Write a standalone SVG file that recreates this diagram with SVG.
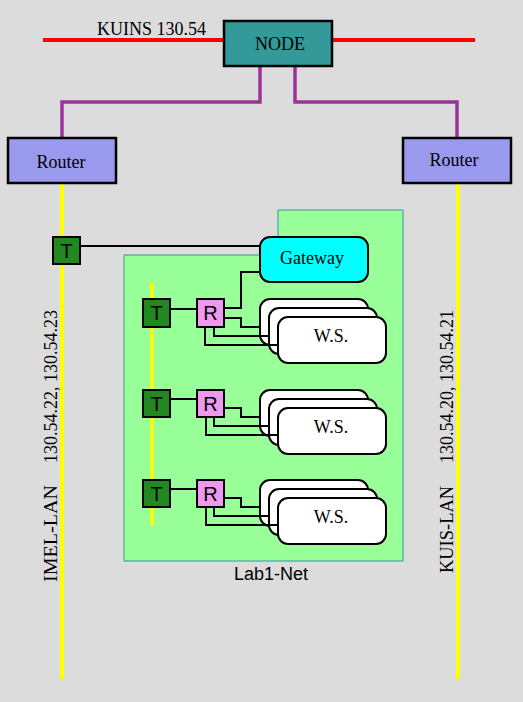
<svg xmlns="http://www.w3.org/2000/svg" width="523" height="702" viewBox="0 0 523 702">
<defs>
<style>
.serif{font-family:"Liberation Serif","Times New Roman",serif;font-size:18px;fill:#000}
.sans{font-family:"Liberation Sans",Arial,sans-serif;font-size:18px;fill:#000}
.tr{font-family:"Liberation Sans",Arial,sans-serif;font-size:20px;fill:#000;text-anchor:middle}
.box{stroke:#000;stroke-width:2.5}
.small{stroke:#000;stroke-width:2}
.wire{fill:none;stroke:#000;stroke-width:2}
.card{fill:#fff;stroke:#000;stroke-width:2}
</style>
</defs>
<rect x="0" y="0" width="523" height="702" fill="#dcdcdc"/>

<g id="lab1-net">
<path d="M278,210 H403 V561 H124 V255 H278 Z" fill="#99ff99" stroke="#339999" stroke-width="1"/>
<text class="sans" x="271" y="580" text-anchor="middle" font-size="19">Lab1-Net</text>
</g>

<g id="lines">
<line x1="43" y1="40" x2="475" y2="40" stroke="#ff0000" stroke-width="4"/>
<polyline points="260,66 260,102 62,102 62,138" fill="none" stroke="#993399" stroke-width="3.5"/>
<polyline points="295,66 295,102 457,102 457,138" fill="none" stroke="#993399" stroke-width="3.5"/>
<line x1="62" y1="183" x2="62" y2="679" stroke="#ffff00" stroke-width="4"/>
<line x1="458" y1="183" x2="458" y2="679" stroke="#ffff00" stroke-width="4"/>
<line x1="152" y1="282" x2="152" y2="525" stroke="#ffff00" stroke-width="3.5"/>
</g>

<text class="serif" x="97" y="35">KUINS 130.54</text>
<text class="serif" transform="translate(57,582) rotate(-90)" textLength="97" lengthAdjust="spacingAndGlyphs">IMEL-LAN</text>
<text class="serif" transform="translate(57,463) rotate(-90)">130.54.22, 130.54.23</text>
<text class="serif" transform="translate(453,573) rotate(-90)" textLength="87" lengthAdjust="spacingAndGlyphs">KUIS-LAN</text>
<text class="serif" transform="translate(453,463) rotate(-90)">130.54.20, 130.54.21</text>

<g id="node">
<rect class="box" x="224" y="21" width="108" height="45" fill="#339999"/>
<text class="serif" x="280" y="50" text-anchor="middle">NODE</text>
</g>
<g id="router-left">
<rect class="box" x="8" y="138" width="108" height="45" fill="#9999ee"/>
<text class="serif" x="61" y="168" text-anchor="middle">Router</text>
</g>
<g id="router-right">
<rect class="box" x="403" y="138" width="108" height="45" fill="#9999ee"/>
<text class="serif" x="454" y="166" text-anchor="middle">Router</text>
</g>

<g id="t-imel">
<rect class="small" x="53" y="237" width="27" height="27" fill="#228822"/>
<text class="tr" x="66.5" y="258">T</text>
</g>
<g id="gateway">
<rect class="small" x="260" y="237" width="108" height="45" rx="10" fill="#00ffff"/>
<text class="serif" x="312" y="264" text-anchor="middle">Gateway</text>
</g>

<g id="t1"><rect class="small" x="143" y="299" width="27" height="28" fill="#228822"/><text class="tr" x="156.5" y="320">T</text></g>
<g id="r1"><rect class="small" x="197" y="299" width="27" height="28" fill="#ee99ee"/><text class="tr" x="210.5" y="320">R</text></g>
<g id="ws1">
<rect class="card" x="260" y="299" width="108" height="46" rx="10"/>
<rect class="card" x="269" y="308" width="108" height="46" rx="10"/>
<rect class="card" x="278" y="317" width="108" height="46" rx="10"/>
<text class="serif" x="331" y="342" text-anchor="middle">W.S.</text>
</g>

<g id="t2"><rect class="small" x="143" y="390" width="27" height="27" fill="#228822"/><text class="tr" x="156.5" y="411">T</text></g>
<g id="r2"><rect class="small" x="197" y="390" width="27" height="27" fill="#ee99ee"/><text class="tr" x="210.5" y="411">R</text></g>
<g id="ws2">
<rect class="card" x="260" y="390" width="108" height="46" rx="10"/>
<rect class="card" x="269" y="399" width="108" height="46" rx="10"/>
<rect class="card" x="278" y="408" width="108" height="46" rx="10"/>
<text class="serif" x="331" y="433" text-anchor="middle">W.S.</text>
</g>

<g id="t3"><rect class="small" x="143" y="480" width="27" height="27" fill="#228822"/><text class="tr" x="156.5" y="501">T</text></g>
<g id="r3"><rect class="small" x="197" y="480" width="27" height="27" fill="#ee99ee"/><text class="tr" x="210.5" y="501">R</text></g>
<g id="ws3">
<rect class="card" x="260" y="480" width="108" height="46" rx="10"/>
<rect class="card" x="269" y="489" width="108" height="46" rx="10"/>
<rect class="card" x="278" y="498" width="108" height="46" rx="10"/>
<text class="serif" x="331" y="523" text-anchor="middle">W.S.</text>
</g>

<g id="connectors">
<line class="wire" x1="80" y1="246" x2="260" y2="246"/>
<line class="wire" x1="170" y1="309" x2="197" y2="309"/>
<polyline class="wire" points="224,308 241,308 241,272 260,272"/>
<polyline class="wire" points="224,318 241,318 241,327 260,327"/>
<polyline class="wire" points="214,327 214,336 269,336"/>
<polyline class="wire" points="205,327 205,345 278,345"/>

<line class="wire" x1="170" y1="399" x2="197" y2="399"/>
<polyline class="wire" points="224,408 241,408 241,417 260,417"/>
<polyline class="wire" points="214,417 214,426 269,426"/>
<polyline class="wire" points="206,417 206,435 278,435"/>

<line class="wire" x1="170" y1="489" x2="197" y2="489"/>
<polyline class="wire" points="224,498 241,498 241,507 260,507"/>
<polyline class="wire" points="214,507 214,516 269,516"/>
<polyline class="wire" points="206,507 206,525 278,525"/>
</g>
</svg>
